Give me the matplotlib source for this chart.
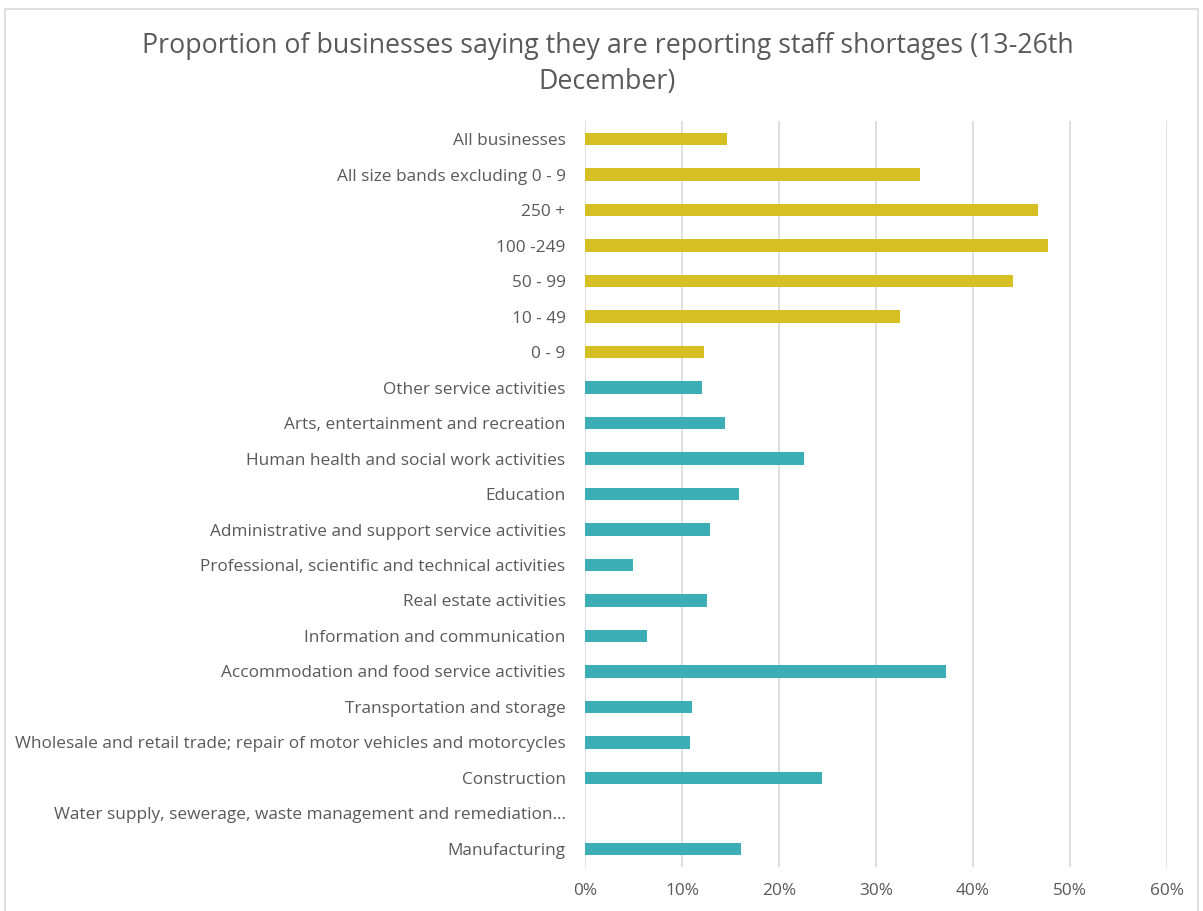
import matplotlib
matplotlib.use("Agg")
import matplotlib.pyplot as plt
from matplotlib.patches import Rectangle
from matplotlib.ticker import PercentFormatter

# categories top to bottom
categories = [
    "All businesses",
    "All size bands excluding 0 - 9",
    "250 +",
    "100 -249",
    "50 - 99",
    "10 - 49",
    "0 - 9",
    "Other service activities",
    "Arts, entertainment and recreation",
    "Human health and social work activities",
    "Education",
    "Administrative and support service activities",
    "Professional, scientific and technical activities",
    "Real estate activities",
    "Information and communication",
    "Accommodation and food service activities",
    "Transportation and storage",
    "Wholesale and retail trade; repair of motor vehicles and motorcycles",
    "Construction",
    "Water supply, sewerage, waste management and remediation...",
    "Manufacturing",
]
values = [14.6, 34.5, 46.7, 47.7, 44.1, 32.5, 12.3,
          12.1, 14.4, 22.6, 15.9, 12.9, 4.9, 12.6, 6.4, 37.2, 11.0, 10.8, 24.4, 0.0, 16.1]
groups = ["size"] * 7 + ["industry"] * 14

colours = {"size": "#D6BF22", "industry": "#3BAEB6"}
TEXT = "#595959"

fig = plt.figure(figsize=(12.03, 9.11), dpi=100)
ax = fig.add_axes([0.4863, 0.0487, 0.4838, 0.818])

pos = list(range(len(categories)))
ax.barh(pos, values, height=0.35, color=[colours[g] for g in groups])
ax.set_yticks(pos)
ax.set_yticklabels(categories)
ax.set_ylim(len(categories) - 0.5, -0.5)
ax.set_xlim(0, 60)
ax.set_xticks(range(0, 61, 10))
ax.xaxis.set_major_formatter(PercentFormatter(decimals=0))

ax.grid(axis="x", color="#D9D9D9", linewidth=1.2)
ax.set_axisbelow(True)
for s in ax.spines.values():
    s.set_visible(False)
ax.tick_params(length=0, labelsize=12.4, labelcolor=TEXT)
ax.tick_params(axis="y", pad=14)
ax.tick_params(axis="x", pad=12)
for lab in ax.get_yticklabels() + ax.get_xticklabels():
    lab.set_family("Open Sans")

fig.text(0.505, 0.93,
         "Proportion of businesses saying they are reporting staff shortages (13-26th\nDecember)",
         ha="center", va="center", fontsize=19.3, color=TEXT, family="Open Sans",
         linespacing=1.4)

fig.patches.append(Rectangle((0.004, -0.01), 0.992, 1.0, transform=fig.transFigure,
                             fill=False, edgecolor="#D9D9D9", linewidth=1.2))

fig.savefig("out.png", dpi=100)
